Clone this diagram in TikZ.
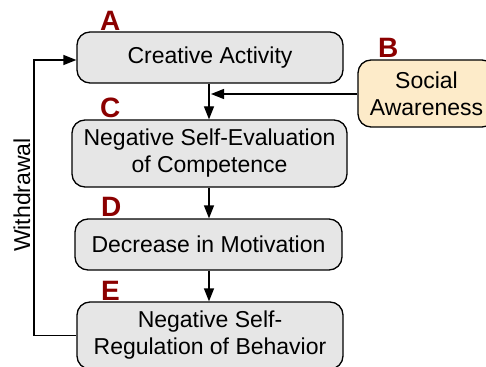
\documentclass[tikz,border=0pt]{standalone}
\usepackage{fontspec}
\setmainfont{Liberation Sans}
\usetikzlibrary{arrows.meta}
\definecolor{boxgray}{HTML}{E6E6E6}
\definecolor{boxcream}{HTML}{FDEBC9}
\definecolor{labelred}{HTML}{8B0000}
\begin{document}
\begin{tikzpicture}[x=1pt,y=-1pt,
  box/.style={draw=black, line width=1.3pt, fill=boxgray, rounded corners=13pt,
    align=center, inner sep=0pt, font=\fontsize{23}{27}\selectfont},
  lab/.style={text=labelred, font=\fontsize{28}{30}\selectfont\bfseries,
    anchor=base west, inner sep=0pt},
  arr/.style={line width=1.3pt, -{Triangle[length=13pt,width=10pt]}},
  link/.style={line width=1.3pt}]
\useasboundingbox (0,0) rectangle (486,366);
\clip (0,0) rectangle (486,366);

% stages of the chain
\node[box, minimum width=266pt, minimum height=51pt] (a) at (210,57.5) {Creative Activity};
\node[box, fill=boxcream, minimum width=137pt, minimum height=67pt] (b) at (426.5,93.5) {Social\\Awareness};
\node[box, minimum width=275pt, minimum height=67pt] (c) at (209.5,153.5) {Negative Self-Evaluation\\of Competence};
\node[box, minimum width=267pt, minimum height=51pt] (d) at (208.5,244.5) {Decrease in Motivation};
\node[box, minimum width=266pt, minimum height=67pt] (e) at (210,335.5) {Negative Self-\\Regulation of Behavior};

% stage letters
\node[lab] (la) at (100,31) {A};
\node[lab] (lb) at (378,58) {B};
\node[lab] (lc) at (100,118) {C};
\node[lab] (ld) at (101,216) {D};
\node[lab] (le) at (101,300) {E};

% main flow
\coordinate (x0) at (209,0);
\draw[arr] (a.south -| x0) -- (c.north -| x0);
\draw[arr] (c.south -| x0) -- (d.north -| x0);
\draw[arr] (d.south -| x0) -- (e.north -| x0);

% social awareness joins the first step
\coordinate (bj) at (211,94);
\draw[arr] (b.west |- bj) -- (bj);

% withdrawal loop back to the start
\coordinate (fb) at (34,0);
\draw[arr] (e.west) -- (e.west -| fb) |- ([yshift=-2.5pt]a.west);
\node[rotate=90, font=\fontsize{23}{27}\selectfont, inner sep=0pt] (w) at (22,195) {Withdrawal};
\end{tikzpicture}
\end{document}
